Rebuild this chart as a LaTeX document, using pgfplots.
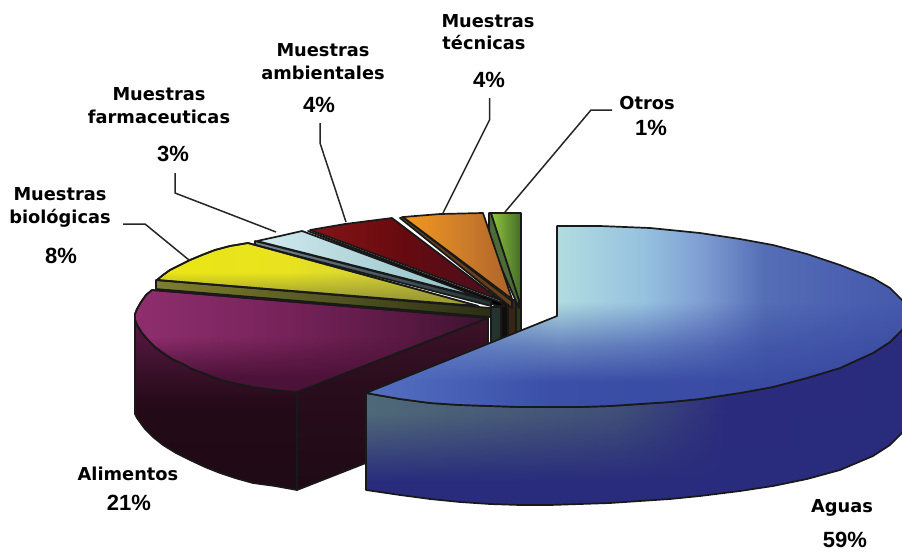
\documentclass[border=0pt]{standalone}
\usepackage{fontspec}
\setmainfont{DejaVu Sans}
\newfontfamily\pctfont{Liberation Sans}
\usepackage{pgfplots}
\pgfplotsset{compat=1.18}
\usepackage{pgfplotstable}
\usetikzlibrary{fadings}

% Colour ramps: the path's bounding box spans 25bp to 75bp of each shading
\pgfdeclarehorizontalshading{aguasTopH}{100bp}{
  rgb(0bp)=(.39,.51,.78); rgb(25bp)=(.39,.51,.78);
  rgb(42.7bp)=(.69,.86,.88); rgb(50.4bp)=(.59,.76,.88); rgb(56bp)=(.49,.61,.82);
  rgb(61.5bp)=(.33,.43,.71); rgb(69.9bp)=(.29,.37,.69); rgb(75bp)=(.27,.35,.67); rgb(100bp)=(.27,.35,.67)}
\pgfdeclarehorizontalshading{aguasLowH}{100bp}{
  rgb(0bp)=(.33,.44,.76); rgb(25bp)=(.33,.44,.76);
  rgb(42bp)=(.23,.31,.66); rgb(75bp)=(.22,.28,.62); rgb(100bp)=(.22,.28,.62)}
\pgfdeclarehorizontalshading{aguasSideH}{100bp}{
  rgb(0bp)=(.31,.41,.47); rgb(25bp)=(.31,.41,.47);
  rgb(48bp)=(.25,.31,.47); rgb(58bp)=(.17,.17,.49); rgb(75bp)=(.16,.17,.49); rgb(100bp)=(.16,.17,.49)}
\pgfdeclarehorizontalshading{alimTopH}{100bp}{
  rgb(0bp)=(.56,.18,.43); rgb(25bp)=(.56,.18,.43);
  rgb(45bp)=(.47,.14,.36); rgb(62bp)=(.36,.10,.27); rgb(75bp)=(.24,.07,.18); rgb(100bp)=(.24,.07,.18)}
\pgfdeclareverticalshading{alimSideV}{100bp}{
  rgb(0bp)=(.12,.04,.08); rgb(25bp)=(.12,.04,.08); rgb(50bp)=(.14,.04,.09);
  rgb(75bp)=(.35,.10,.27); rgb(100bp)=(.35,.10,.27)}
\pgfdeclareverticalshading{alimFaceV}{100bp}{
  rgb(0bp)=(.12,.04,.08); rgb(25bp)=(.12,.04,.08); rgb(55bp)=(.16,.05,.11);
  rgb(75bp)=(.24,.07,.16); rgb(100bp)=(.24,.07,.16)}
\pgfdeclarehorizontalshading{yellowH}{100bp}{
  rgb(0bp)=(.92,.90,.08); rgb(25bp)=(.92,.90,.08);
  rgb(45bp)=(.91,.89,.12); rgb(75bp)=(.76,.76,.30); rgb(100bp)=(.76,.76,.30)}
\pgfdeclarehorizontalshading{oliveH}{100bp}{
  rgb(0bp)=(.50,.50,.18); rgb(25bp)=(.50,.50,.18);
  rgb(75bp)=(.17,.18,.08); rgb(100bp)=(.17,.18,.08)}
\pgfdeclarehorizontalshading{paleH}{100bp}{
  rgb(0bp)=(.82,.92,.94); rgb(25bp)=(.82,.92,.94);
  rgb(75bp)=(.55,.74,.76); rgb(100bp)=(.55,.74,.76)}
\pgfdeclarehorizontalshading{paleBandH}{100bp}{
  rgb(0bp)=(.45,.53,.58); rgb(25bp)=(.45,.53,.58);
  rgb(75bp)=(.13,.19,.20); rgb(100bp)=(.13,.19,.20)}
\pgfdeclarehorizontalshading{redH}{100bp}{
  rgb(0bp)=(.52,.08,.09); rgb(25bp)=(.52,.08,.09);
  rgb(50bp)=(.40,.04,.06); rgb(75bp)=(.28,.06,.12); rgb(100bp)=(.28,.06,.12)}
\pgfdeclarehorizontalshading{orangeH}{100bp}{
  rgb(0bp)=(.95,.60,.12); rgb(25bp)=(.95,.60,.12);
  rgb(50bp)=(.82,.50,.16); rgb(75bp)=(.68,.39,.17); rgb(100bp)=(.68,.39,.17)}
\pgfdeclarehorizontalshading{greenH}{100bp}{
  rgb(0bp)=(.56,.78,.24); rgb(25bp)=(.56,.78,.24);
  rgb(75bp)=(.27,.42,.16); rgb(100bp)=(.27,.42,.16)}

% Opacity ramps for the shadow laid over the tops and sides
\pgfdeclareverticalshading{lowerRamp}{100bp}{
  color(0bp)=(white); color(32bp)=(white); color(52bp)=(black); color(100bp)=(black)}
\pgfdeclarefading{lowerFade}{\pgfuseshading{lowerRamp}}
\pgfdeclareverticalshading{aguasRamp}{100bp}{
  color(0bp)=(white); color(32bp)=(white); rgb(42bp)=(.62,.62,.62); color(54bp)=(black); color(100bp)=(black)}
\pgfdeclarefading{aguasFade}{\pgfuseshading{aguasRamp}}
\pgfdeclareverticalshading{upperRamp}{100bp}{
  color(0bp)=(black); color(31bp)=(black); color(49bp)=(white); color(100bp)=(white)}
\pgfdeclarefading{upperFade}{\pgfuseshading{upperRamp}}

% Outlines, in pixels from the top left corner
\pgfplotstableread{
x y
557 226
600 226
650 228
700 233
740 239
773 245
807 254
840 265
873 278
890 288
902 300
912 315
902 330
890 342
873 353
840 368
807 378
773 387
740 393
700 399
670 402
640 404
610 406
580 407
550 407
520 407
490 406
460 405
430 403
400 399
366 393
557 316
}\aguasTop
\pgfplotstableread{
x y
366 393
400 399
430 403
460 405
490 406
520 407
550 407
580 407
610 406
640 404
670 402
700 399
740 393
773 387
807 378
840 368
873 353
890 342
902 330
912 315
912 420
902 433
890 445
873 456
840 470
807 479
773 486
740 491
700 496
670 499
640 501
610 503
580 504
550 505
520 505
490 504
460 502
430 499
400 495
366 490
}\aguasSide
\pgfplotstableread{
x y
152 290
488 318
297 392
275 390
253 387
238 384
225 381
213 377
203 373
192 369
183 364
172 359
163 353
155 347
148 340
142 333
137 325
135 320
135 314
137 309
141 302
146 295
}\alimTop
\pgfplotstableread{
x y
135 320
137 325
142 333
148 340
155 347
163 353
172 359
183 364
192 369
203 373
213 377
225 381
238 384
253 387
275 390
297 392
297 490
275 486
253 483
235 478
220 473
205 467
190 460
176 453
163 445
153 437
145 429
137 418
135 414
}\alimSide
\pgfplotstableread{
x y
297 392
488 318
488 415
297 490
}\alimFace
\pgfplotstableread{
x y
157 280
163 275
170 270
180 265
190 260
202 255
215 250
230 246
248 243
478 306
}\yellowTop
\pgfplotstableread{
x y
156 280
491 308
491 317
156 289
}\yellowBand
\pgfplotstableread{
x y
257 241
280 236
302 231
482 298
}\paleTop
\pgfplotstableread{
x y
255 241
491 301
491 306
255 245
}\paleBand
\pgfplotstableread{
x y
310 230
345 224
392 218
500 300
}\redTop
\pgfplotstableread{
x y
308 231
500 302
505 306
497 306
}\redBand
\pgfplotstableread{
x y
403 217
440 214
483 213
512 299
}\orangeTop
\pgfplotstableread{
x y
400 218
403 217
512 301
512 308
}\orangeBand
\pgfplotstableread{
x y
491 213
521 213
521 300
519 300
}\greenTop
\pgfplotstableread{
x y
489 213
491 213
519 300
519 308
489 240
}\greenBand
\pgfplotstableread{
x y
491 307
501 307
501 345
491 345
}\coreA
\pgfplotstableread{
x y
501 300
508 300
508 345
501 345
}\coreB
\pgfplotstableread{
x y
508 300
516 300
516 345
508 345
}\coreC
\pgfplotstableread{
x y
516 300
521 300
521 345
516 345
}\coreD

\tikzset{edge/.style={draw=black!90!white,line width=1.7pt,line join=round}}
\newcommand{\lead}[1]{\addplot[black!85!white,line width=1.5pt,line join=round] coordinates {#1};}
\newcommand{\name}[2]{\node[align=center,font=\fontsize{17.8}{23}\selectfont\bfseries,inner sep=0pt] at (axis cs:#1) {#2};}
\newcommand{\pct}[2]{\node[font=\fontsize{22}{23}\selectfont\pctfont\bfseries,inner sep=0pt] at (axis cs:#1) {#2};}

\begin{document}
\begin{tikzpicture}
\useasboundingbox (0,0) rectangle (902pt,552pt);
\begin{axis}[
  at={(0,0)}, anchor=south west,
  scale only axis, width=902pt, height=552pt,
  xmin=0, xmax=902, ymin=0, ymax=552, y dir=reverse,
  hide axis, clip=true]

% Leader lines
\lead{(612,110) (591,110) (505,212)}
\lead{(489.5,98) (489.5,120) (443,213)}
\lead{(320,123) (320,143) (346,222)}
\lead{(175,173) (175,193) (276,232)}
\lead{(123,224) (145,224) (189,260)}

% Inner walls around the pie's centre
\addplot[edge,fill={rgb,1:red,.14;green,.20;blue,.18}] table {\coreA} -- cycle;
\addplot[edge,fill={rgb,1:red,.07;green,.05;blue,.05}] table {\coreB} -- cycle;
\addplot[edge,fill={rgb,1:red,.22;green,.15;blue,.08}] table {\coreC} -- cycle;
\addplot[edge,fill={rgb,1:red,.17;green,.22;blue,.10}] table {\coreD} -- cycle;

% Otros
\addplot[edge,fill={rgb,1:red,.30;green,.42;blue,.22}] table {\greenBand} -- cycle;
\addplot[edge,shade,shading=greenH] table {\greenTop} -- cycle;
% Muestras técnicas
\addplot[edge,fill={rgb,1:red,.40;green,.25;blue,.10}] table {\orangeBand} -- cycle;
\addplot[edge,shade,shading=orangeH] table {\orangeTop} -- cycle;
% Muestras ambientales
\addplot[edge,fill=black] table {\redBand} -- cycle;
\addplot[edge,shade,shading=redH] table {\redTop} -- cycle;
% Muestras farmacéuticas
\addplot[edge,shade,shading=paleBandH] table {\paleBand} -- cycle;
\addplot[edge,shade,shading=paleH] table {\paleTop} -- cycle;
% Muestras biológicas
\addplot[edge,shade,shading=oliveH] table {\yellowBand} -- cycle;
\addplot[edge,shade,shading=yellowH] table {\yellowTop} -- cycle;
\addplot[draw=none,fill={rgb,1:red,.62;green,.62;blue,.20},path fading=lowerFade,fit fading=true] table {\yellowTop} -- cycle;
\addplot[edge,fill=none] table {\yellowTop} -- cycle;

% Alimentos
\addplot[edge,shade,shading=alimFaceV] table {\alimFace} -- cycle;
\addplot[edge,shade,shading=alimSideV] table {\alimSide} -- cycle;
\addplot[edge,shade,shading=alimTopH] table {\alimTop} -- cycle;
\addplot[draw=none,fill={rgb,1:red,.30;green,.07;blue,.22},path fading=lowerFade,fit fading=true] table {\alimTop} -- cycle;
\addplot[edge,fill=none] table {\alimTop} -- cycle;

% Aguas
\addplot[draw=none,fill={rgb,1:red,.16;green,.17;blue,.49}] table {\aguasSide} -- cycle;
\addplot[draw=none,shade,shading=aguasSideH,path fading=upperFade,fit fading=true] table {\aguasSide} -- cycle;
\addplot[edge,fill=none] table {\aguasSide} -- cycle;
\addplot[draw=none,shade,shading=aguasTopH] table {\aguasTop} -- cycle;
\addplot[draw=none,shade,shading=aguasLowH,path fading=aguasFade,fit fading=true] table {\aguasTop} -- cycle;
\addplot[edge,fill=none] table {\aguasTop} -- cycle;

% Labels
\name{488,21}{Muestras}
\name{484,43}{técnicas}
\pct{489,80}{4\%}
\name{323,62}{Muestras\\ambientales}
\pct{319,105}{4\%}
\name{159,106}{Muestras\\farmaceuticas}
\pct{173,154}{3\%}
\name{60,207}{Muestras\\biológicas}
\pct{61,256}{8\%}
\name{647,103}{Otros}
\pct{651,128}{1\%}
\name{128,474}{Alimentos}
\pct{129,503}{21\%}
\name{842,508}{Aguas}
\pct{845,540}{59\%}
\end{axis}
\end{tikzpicture}
\end{document}
